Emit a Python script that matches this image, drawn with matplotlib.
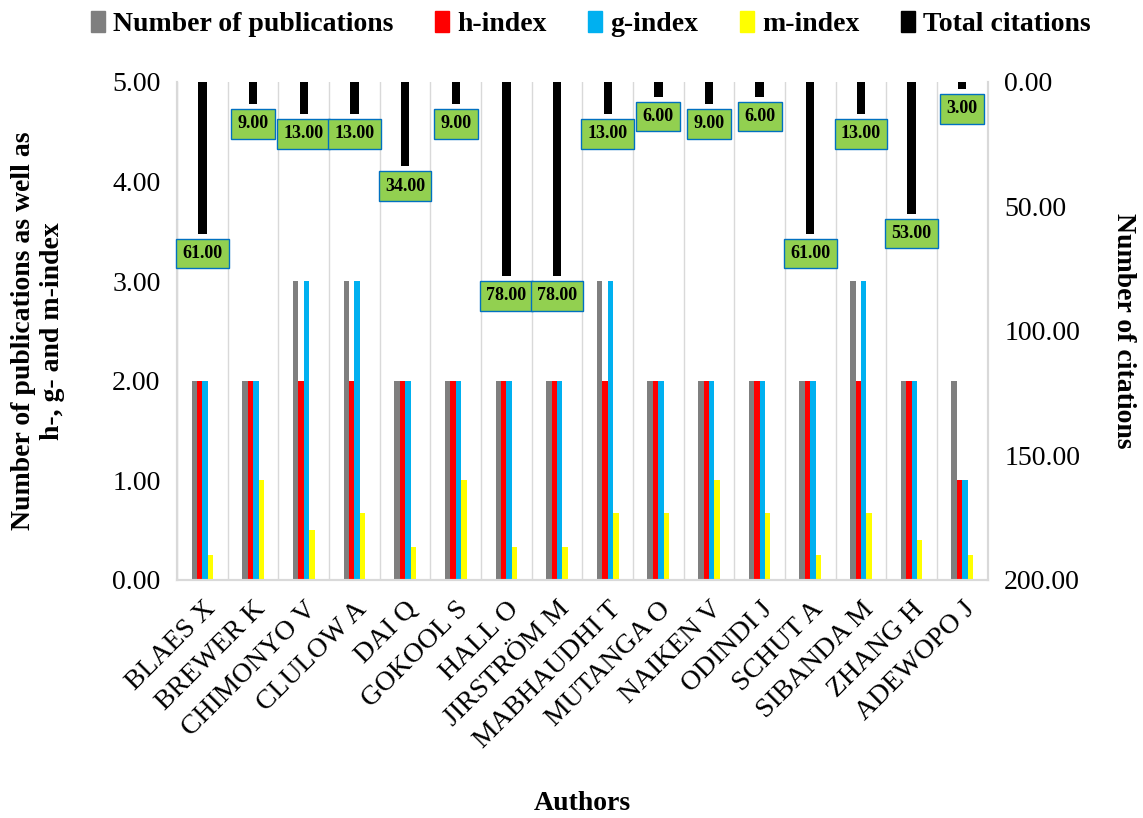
import matplotlib
matplotlib.use('Agg')
import matplotlib.pyplot as plt
from matplotlib.patches import Patch
import numpy as np

plt.rcParams['font.family'] = ['Liberation Serif', 'DejaVu Serif']

authors = ['BLAES X', 'BREWER K', 'CHIMONYO V', 'CLULOW A', 'DAI Q', 'GOKOOL S',
           'HALL O', 'JIRSTRÖM M', 'MABHAUDHI T', 'MUTANGA O', 'NAIKEN V',
           'ODINDI J', 'SCHUT A', 'SIBANDA M', 'ZHANG H', 'ADEWOPO J']
publications = [2, 2, 3, 3, 2, 2, 2, 2, 3, 2, 2, 2, 2, 3, 2, 2]
h_index = [2, 2, 2, 2, 2, 2, 2, 2, 2, 2, 2, 2, 2, 2, 2, 1]
g_index = [2, 2, 3, 3, 2, 2, 2, 2, 3, 2, 2, 2, 2, 3, 2, 1]
m_index = [0.25, 1.0, 0.5, 0.67, 0.33, 1.0, 0.33, 0.33, 0.67, 0.67, 1.0, 0.67,
           0.25, 0.67, 0.4, 0.25]
citations = [61, 9, 13, 13, 34, 9, 78, 78, 13, 6, 9, 6, 61, 13, 53, 3]

series = [('Number of publications', publications, '#7F7F7F'),
          ('h-index', h_index, '#FF0000'),
          ('g-index', g_index, '#00B0F0'),
          ('m-index', m_index, '#FFFF00')]

fs = 20

fig = plt.figure(figsize=(11.43, 8.18), dpi=100)
ax = fig.add_axes([0.155, 0.291, 0.709, 0.609])
x = np.arange(len(authors))
w = 0.107
for i, (name, vals, col) in enumerate(series):
    ax.bar(x + (i - 1.5) * w, vals, width=w, color=col, zorder=2)

ax.set_xlim(-0.5, len(authors) - 0.5)
ax.set_ylim(0, 5)
ax.set_yticks(np.arange(0, 6, 1))
ax.set_yticklabels(['%.2f' % v for v in np.arange(0, 6, 1)], fontsize=fs)
ax.set_xticks(x)
ax.set_xticklabels(authors, rotation=45, ha='right', rotation_mode='anchor', fontsize=fs)
ax.tick_params(axis='y', length=0, pad=12)
ax.tick_params(axis='x', length=0, pad=12)
for b in np.arange(-0.5, len(authors), 1):
    ax.axvline(b, color='#D9D9D9', lw=1, zorder=0)
ax.spines['top'].set_visible(False)
for s in ['left', 'right', 'bottom']:
    ax.spines[s].set_color('#D9D9D9')
    ax.spines[s].set_linewidth(1.5)
ax.set_ylabel('Number of publications as well as\nh-, g- and m-index',
              fontsize=fs, fontweight='bold', va='center')
ax.yaxis.set_label_coords(-0.172, 0.5)
ax.set_xlabel('Authors', fontsize=fs, fontweight='bold', va='center')
ax.xaxis.set_label_coords(0.5, -0.448)

ax2 = ax.twinx()
ax2.bar(x, citations, width=0.165, color='black', zorder=3)
ax2.set_ylim(200, 0)
ax2.set_yticks(np.arange(0, 201, 50))
ax2.set_yticklabels(['%.2f' % v for v in np.arange(0, 201, 50)], fontsize=fs)
ax2.tick_params(length=0, pad=12)
ax2.spines['top'].set_visible(False)
for s in ['left', 'right', 'bottom']:
    ax2.spines[s].set_color('#D9D9D9')
    ax2.spines[s].set_linewidth(1.5)
ax2.set_ylabel('Number of citations', fontsize=fs, fontweight='bold',
               rotation=270, va='center')
ax2.yaxis.set_label_coords(1.168, 0.5)
for xi, c in zip(x, citations):
    ax2.annotate('%.2f' % c, (xi, c), xytext=(0, -8), textcoords='offset points',
                 ha='center', va='top', fontsize=13, fontweight='bold',
                 bbox=dict(boxstyle='square,pad=0.35', fc='#92D050', ec='#0070C0', lw=1),
                 zorder=4)

handles = [Patch(color=col, label=name) for name, _, col in series]
handles.append(Patch(color='black', label='Total citations'))
fig.legend(handles=handles, loc='center', bbox_to_anchor=(0.517, 0.971), ncol=5,
           frameon=False, handlelength=0.5, handleheight=0.8, handletextpad=0.3,
           columnspacing=1.5, prop={'size': 20, 'weight': 'bold'})

fig.savefig('out.png', dpi=100)
